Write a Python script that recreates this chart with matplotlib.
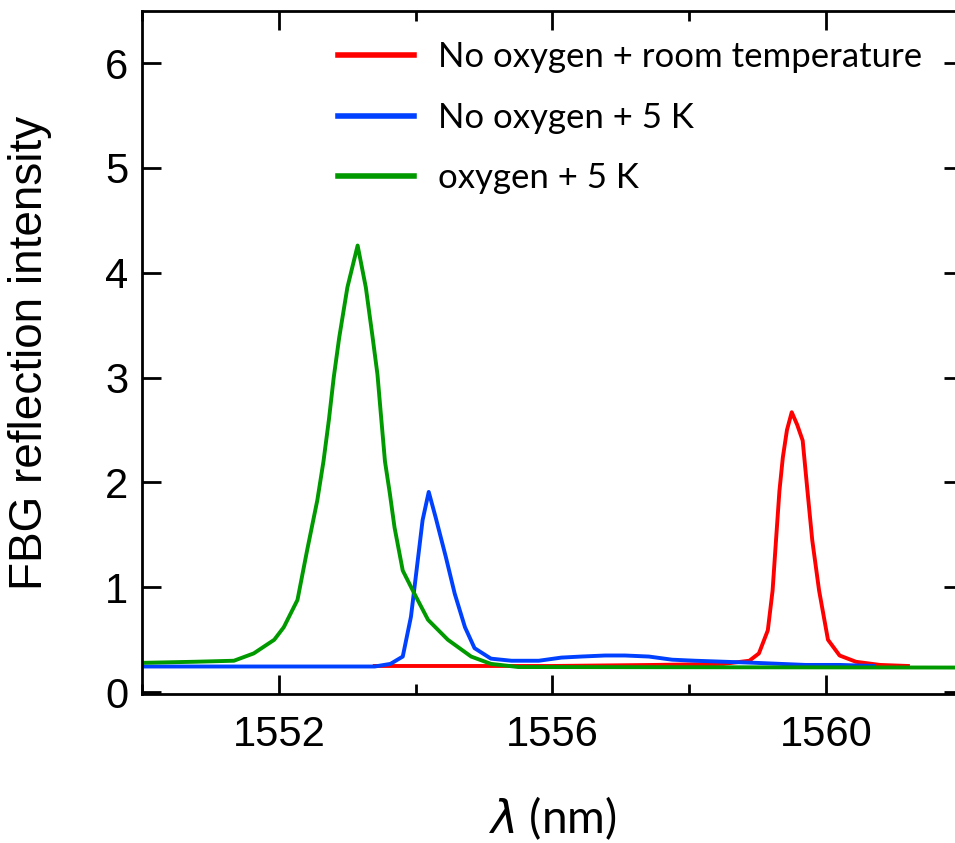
import matplotlib
matplotlib.use("Agg")
import matplotlib.pyplot as plt
from matplotlib.ticker import MultipleLocator

# wavelength (nm) / intensity
lam_red = [1553.4, 1554.5, 1556.0, 1557.5, 1558.5, 1558.88, 1559.02, 1559.15, 1559.22,
           1559.27, 1559.32, 1559.37, 1559.43, 1559.5, 1559.58, 1559.66, 1559.73, 1559.8,
           1559.9, 1560.03, 1560.2, 1560.44, 1560.79, 1561.2]
int_red = [0.25, 0.25, 0.25, 0.26, 0.27, 0.30, 0.37, 0.59, 0.97,
           1.45, 1.92, 2.24, 2.50, 2.67, 2.55, 2.40, 1.92, 1.45,
           0.97, 0.50, 0.35, 0.29, 0.26, 0.25]

lam_blue = [1550.0, 1553.4, 1553.63, 1553.81, 1553.93, 1554.03, 1554.1, 1554.19, 1554.29,
            1554.44, 1554.57, 1554.72, 1554.86, 1555.1, 1555.4, 1555.8, 1556.13, 1556.42,
            1556.77, 1557.06, 1557.41, 1557.75, 1558.09, 1558.53, 1558.97, 1559.7, 1560.2,
            1560.7]
int_blue = [0.245, 0.245, 0.27, 0.34, 0.72, 1.26, 1.64, 1.91, 1.67,
            1.29, 0.94, 0.62, 0.42, 0.32, 0.30, 0.30, 0.33, 0.34,
            0.35, 0.35, 0.34, 0.31, 0.30, 0.29, 0.28, 0.26, 0.26,
            0.25]

lam_green = [1550.0, 1550.75, 1551.34, 1551.63, 1551.93, 1552.07, 1552.27, 1552.41, 1552.56,
             1552.65, 1552.73, 1552.8, 1552.88, 1553.0, 1553.15, 1553.27, 1553.37, 1553.44,
             1553.49, 1553.55, 1553.62, 1553.69, 1553.81, 1553.98, 1554.18, 1554.47, 1554.81,
             1555.1, 1555.5, 1562.0]
int_green = [0.28, 0.29, 0.30, 0.37, 0.50, 0.62, 0.88, 1.35, 1.83,
             2.20, 2.60, 3.00, 3.38, 3.86, 4.26, 3.86, 3.38, 3.03,
             2.65, 2.20, 1.90, 1.57, 1.16, 0.94, 0.69, 0.50, 0.34,
             0.27, 0.24, 0.235]

labels = ["No oxygen + room temperature", "No oxygen + 5 K", "oxygen + 5 K"]
colors = ["#ff0000", "#0040ff", "#009a00"]

DPI = 100
fig = plt.figure(figsize=(955 / DPI, 843 / DPI), dpi=DPI)
ax = fig.add_axes([0.149, 0.1764, 0.859, 0.811])

for lam, val, lab, c in zip([lam_red, lam_blue, lam_green],
                            [int_red, int_blue, int_green], labels, colors):
    ax.plot(lam, val, color=c, lw=2.8, label=lab)

ax.set_xlim(1550, 1562)
ax.set_ylim(-0.02, 6.5)
ax.xaxis.set_major_locator(MultipleLocator(4))
ax.xaxis.set_minor_locator(MultipleLocator(2))
ax.yaxis.set_major_locator(MultipleLocator(1))
ax.set_xticks([1552, 1556, 1560])

for s in ax.spines.values():
    s.set_linewidth(2.0)
ax.tick_params(which="both", direction="in", top=True, right=True, width=2.0)
ax.tick_params(which="major", length=14)
ax.tick_params(which="minor", length=7)
ax.tick_params(axis="x", which="major", pad=15, labelsize=30)
ax.tick_params(axis="y", which="major", pad=10, labelsize=30)
for t in ax.get_xticklabels() + ax.get_yticklabels():
    t.set_fontfamily(["Liberation Sans", "DejaVu Sans"])

ax.set_ylabel("FBG reflection intensity", fontsize=33,
              family=["Liberation Sans Narrow", "Liberation Sans"], labelpad=38)
ax.set_xlabel(r"$\lambda$ (nm)", fontsize=33, family=["Lato", "DejaVu Sans"], labelpad=28)

leg = ax.legend(loc="upper left", bbox_to_anchor=(0.238, 0.955), frameon=False,
                prop={"family": "Lato", "size": 25}, handlelength=2.2, handletextpad=0.7,
                labelspacing=0.82, borderaxespad=0, borderpad=0)
for ln in leg.get_lines():
    ln.set_linewidth(4.0)

fig.savefig("out.png", dpi=DPI)
